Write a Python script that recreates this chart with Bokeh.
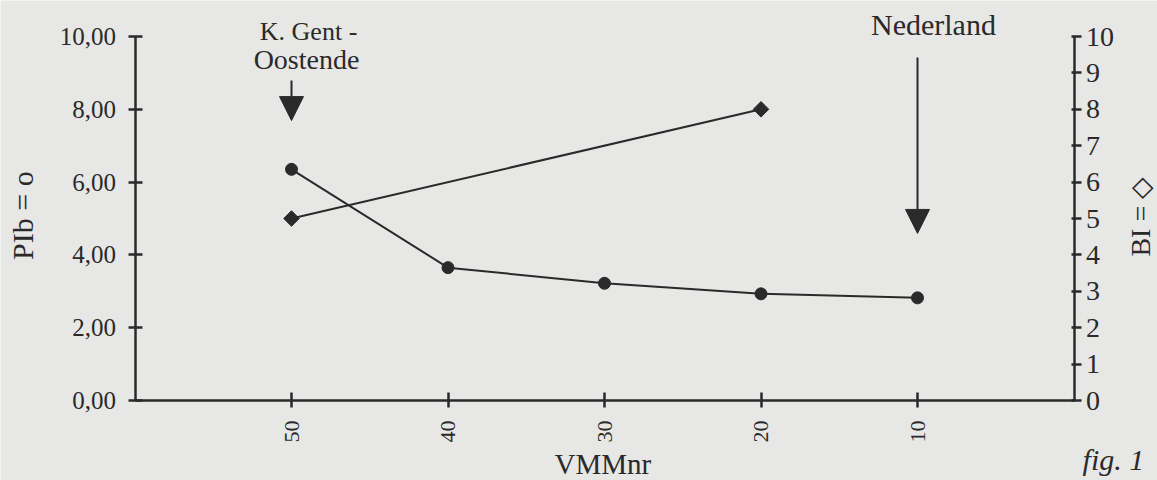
import math
from bokeh.plotting import figure
from bokeh.models import (Range1d, LinearAxis, FixedTicker, Label, Arrow, NormalHead)
from bokeh.embed import file_html
from bokeh.resources import INLINE

# ---- data ----
vmm = [50, 40, 30, 20, 10]
pib = [6.35, 3.65, 3.22, 2.93, 2.82]
bi_vmm = [50, 20]
bi = [5.0, 8.0]
left_ticks = [0, 2, 4, 6, 8, 10]
left_tick_labels = ["0,00", "2,00", "4,00", "6,00", "8,00", "10,00"]
right_ticks = [0, 1, 2, 3, 4, 5, 6, 7, 8, 9, 10]
x_ticks = [10, 20, 30, 40, 50]
x_span = (0, 60)
y_span = (0, 10)
marker_sites = ["K. Gent -", "Oostende", "Nederland"]
marker_x = [50, 10]

INK = "#2a2a2a"
BG = "#e7e7e6"
FONT = "Liberation Serif"

W, H = 1157, 480
# frame fills the page; axes are placed at fixed data locations
px_per_x = 15.65
px_per_y = 36.4
x0_px, y0_px = 1073.5, 400.0   # pixel of x=0 and y=0
x_range = Range1d(x_span[0] + x0_px / px_per_x, x_span[0] - (W - x0_px) / px_per_x)
y_range = Range1d(y_span[0] - (H - y0_px) / px_per_y, y_span[0] + y0_px / px_per_y)

p = figure(width=W, height=H, output_backend="svg", toolbar_location=None,
           x_range=x_range, y_range=y_range, min_border=0,
           y_axis_location=None, x_axis_location=None)
p.background_fill_color = BG
p.border_fill_color = BG
p.outline_line_color = None
p.xgrid.visible = False
p.ygrid.visible = False
p.extra_y_ranges = {"bi": Range1d(y_range.start, y_range.end)}


def style(ax, tin, tout, fs, standoff):
    ax.axis_line_color = INK
    ax.axis_line_width = 2.5
    ax.major_tick_line_color = INK
    ax.major_tick_line_width = 2.5
    ax.major_tick_in = tin
    ax.major_tick_out = tout
    ax.minor_tick_line_color = None
    ax.major_label_text_font = FONT
    ax.major_label_text_font_size = fs
    ax.major_label_text_color = INK
    ax.major_label_standoff = standoff


yl = LinearAxis(ticker=FixedTicker(ticks=left_ticks), fixed_location=x_span[1], bounds=y_span)
yl.major_label_overrides = {t: s for t, s in zip(left_ticks, left_tick_labels)}
style(yl, 7, 7, "25px", 12)
p.add_layout(yl, "left")

yr = LinearAxis(y_range_name="bi", ticker=FixedTicker(ticks=right_ticks),
                fixed_location=x_span[0], bounds=y_span)
style(yr, 3, 7, "28px", 5)
p.add_layout(yr, "right")

xb = LinearAxis(ticker=FixedTicker(ticks=x_ticks), fixed_location=y_span[0], bounds=x_span)
style(xb, 8, 7, "22px", 13)
xb.major_label_orientation = math.pi / 2
p.add_layout(xb, "below")

# series
p.line(vmm, pib, line_color=INK, line_width=2)
p.scatter(vmm, pib, marker="circle", size=12, fill_color=INK, line_color=INK)
p.line(bi_vmm, bi, line_color=INK, line_width=2, y_range_name="bi")
p.scatter(bi_vmm, bi, marker="square", angle=math.pi / 4, size=11,
          fill_color=INK, line_color=INK, y_range_name="bi")

# arrows with labels
arrow_spans = [(8.79, 7.69), (9.42, 4.59)]
for xv, (ya, yb) in zip(marker_x, arrow_spans):
    p.add_layout(Arrow(x_start=xv, y_start=ya, x_end=xv, y_end=yb,
                       line_color=INK, line_width=2,
                       end=NormalHead(size=24, fill_color=INK, line_color=INK)))


def text(x, y, s, size, **kw):
    opts = dict(text_font=FONT, text_font_size=size, text_color=INK,
                text_align="center", text_baseline="alphabetic")
    opts.update(kw)
    p.add_layout(Label(x=x, y=y, text=s, **opts))


text(marker_x[0] - 1.09, 10.14, marker_sites[0], "26px")
text(marker_x[0] - 0.96, 9.37, marker_sites[1], "28px")
text(marker_x[1] - 1.02, 10.33, marker_sites[2], "30px")

# axis titles
text(67.19, 5.08, "PIb = o", "30px", angle=math.pi / 2)
text(-4.22, 5.05, "BI = \u25c7", "28px", angle=math.pi / 2)
text(30.1, -1.74, "VMMnr", "29px")
text(-0.55, -1.62, "fig. 1", "30px", text_align="left", text_font_style="italic")

open("out.html", "w").write(file_html(p, INLINE))
